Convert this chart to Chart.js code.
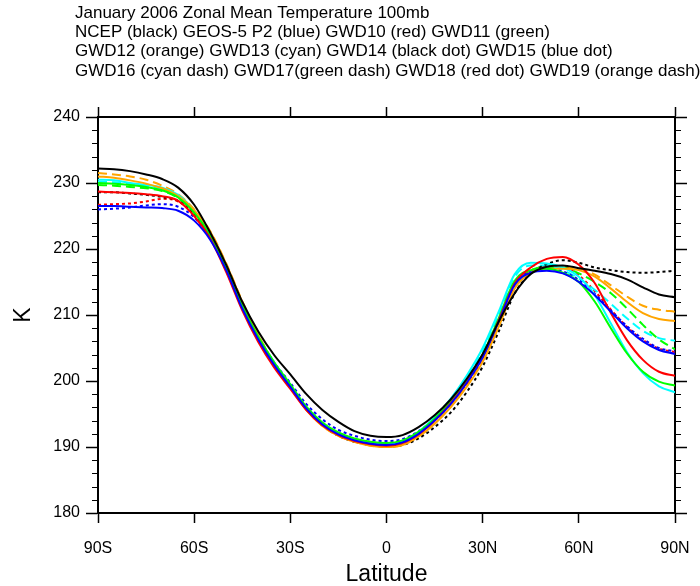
<!DOCTYPE html>
<html>
<head>
<title>January 2006 Zonal Mean Temperature 100mb</title>
<script src="https://cdn.jsdelivr.net/npm/chart.js@4.4.1/dist/chart.umd.min.js"></script>
<style>
  body { margin: 0; background: #fff; }
</style>
</head>
<body>
<canvas id="myChart" width="700" height="586"></canvas>
<script>
// latitude every 5 degrees, 90S..90N
var lats = [-90, -85, -80, -75, -70, -65, -60, -55, -50, -45, -40, -35, -30, -25, -20, -15, -10, -5, 0,
            5, 10, 15, 20, 25, 30, 35, 40, 45, 50, 55, 60, 65, 70, 75, 80, 85, 90];

var titleLines = [
  'January 2006 Zonal Mean Temperature 100mb',
  'NCEP (black) GEOS-5 P2 (blue) GWD10 (red) GWD11 (green)',
  'GWD12 (orange) GWD13 (cyan) GWD14 (black dot) GWD15 (blue dot)',
  'GWD16 (cyan dash) GWD17(green dash) GWD18 (red dot) GWD19 (orange dash)'
];

var ncep = [232.2, 232.1, 231.8, 231.3, 230.6, 229.3, 226.7, 222.5, 217.6, 212.0, 207.5, 203.9, 201.0, 198.0, 195.6, 193.8, 192.4, 191.7, 191.5,
            191.8, 193.0, 194.8, 197.2, 200.3, 204.1, 209.0, 213.3, 216.2, 217.3, 217.5, 217.1, 216.7, 216.2, 215.4, 214.2, 213.1, 212.7];
var geos5 = [226.5, 226.5, 226.4, 226.3, 226.2, 225.8, 224.3, 221.4, 216.8, 211.0, 206.3, 202.4, 199.1, 195.8, 193.4, 191.9, 191.0, 190.5, 190.3,
             190.7, 192.0, 194.0, 196.5, 199.7, 203.6, 209.0, 214.6, 216.4, 216.7, 216.3, 215.0, 213.0, 210.5, 208.0, 206.0, 204.7, 204.1];
var gwd10 = [228.7, 228.6, 228.5, 228.3, 228.0, 227.3, 225.0, 221.6, 216.5, 210.7, 205.9, 202.0, 198.8, 195.6, 193.3, 191.8, 190.9, 190.4, 190.2,
             190.6, 191.9, 194.0, 196.6, 199.8, 203.7, 209.2, 214.8, 217.2, 218.5, 218.8, 217.6, 214.8, 210.3, 206.2, 203.2, 201.4, 200.8];
var gwd11 = [230.0, 229.9, 229.7, 229.4, 228.9, 227.8, 225.5, 222.1, 217.1, 211.4, 206.7, 202.8, 199.5, 196.1, 193.7, 192.2, 191.3, 190.8, 190.6,
             191.0, 192.3, 194.3, 196.9, 200.1, 204.0, 209.5, 215.2, 216.8, 217.0, 216.4, 215.0, 212.0, 208.0, 204.2, 201.4, 199.9, 199.3];
var gwd12 = [231.0, 230.8, 230.4, 229.9, 229.2, 228.0, 225.9, 222.6, 217.7, 212.0, 206.9, 202.6, 199.1, 195.6, 193.2, 191.7, 190.8, 190.2, 190.0,
             190.3, 191.6, 193.5, 196.0, 199.1, 202.9, 208.2, 214.0, 216.4, 217.0, 217.0, 216.8, 215.8, 214.0, 212.0, 210.3, 209.4, 209.1];
var gwd13 = [230.5, 230.4, 230.0, 229.7, 229.3, 228.2, 225.8, 222.2, 217.2, 211.5, 206.8, 202.8, 199.4, 196.0, 193.6, 192.0, 191.1, 190.6, 190.4,
             190.9, 192.3, 194.5, 197.3, 200.8, 205.0, 210.5, 216.2, 217.9, 217.8, 217.2, 215.8, 213.0, 208.7, 204.4, 201.2, 199.2, 198.3];
var gwd14 = [228.6, 228.6, 228.4, 228.2, 227.9, 227.3, 225.3, 221.9, 217.0, 211.3, 206.5, 202.5, 199.2, 195.8, 193.3, 191.7, 190.8, 190.3, 190.1,
             190.3, 191.3, 193.0, 195.2, 198.3, 202.2, 207.5, 213.3, 216.3, 217.7, 218.3, 217.9, 217.2, 216.8, 216.5, 216.4, 216.5, 216.7];
var gwd15 = [226.0, 226.1, 226.3, 226.6, 226.8, 226.4, 224.8, 221.6, 216.8, 211.2, 206.6, 202.8, 199.7, 196.5, 194.2, 192.6, 191.7, 191.1, 190.9,
             191.2, 192.4, 194.3, 196.8, 199.9, 203.7, 209.1, 214.9, 216.6, 217.0, 216.6, 215.3, 213.2, 210.7, 208.3, 206.4, 205.0, 204.5];
var gwd16 = [230.2, 230.1, 229.8, 229.5, 229.0, 228.0, 225.6, 222.1, 217.1, 211.4, 206.7, 202.7, 199.4, 196.0, 193.6, 192.0, 191.1, 190.6, 190.4,
             190.8, 192.2, 194.3, 197.0, 200.4, 204.5, 210.0, 215.8, 217.5, 217.5, 216.8, 215.5, 213.8, 211.7, 209.5, 207.6, 206.5, 206.1];
var gwd17 = [229.7, 229.6, 229.4, 229.2, 228.8, 227.7, 225.4, 222.0, 217.0, 211.3, 206.6, 202.7, 199.4, 196.0, 193.6, 192.1, 191.2, 190.7, 190.5,
             190.9, 192.2, 194.2, 196.8, 200.0, 203.9, 209.3, 215.0, 216.8, 217.3, 217.2, 216.3, 215.0, 213.3, 211.0, 208.5, 206.3, 204.8];
var gwd18 = [226.7, 226.8, 226.9, 227.2, 227.6, 227.2, 225.2, 221.7, 216.7, 211.0, 206.3, 202.4, 199.1, 195.8, 193.4, 191.8, 190.9, 190.4, 190.3,
             190.7, 192.0, 194.0, 196.5, 199.6, 203.5, 208.8, 214.6, 216.6, 217.4, 217.3, 216.0, 213.6, 210.8, 208.2, 206.2, 204.9, 204.4];
var gwd19 = [231.5, 231.3, 231.0, 230.5, 229.6, 228.3, 226.0, 222.7, 217.8, 212.1, 207.0, 202.7, 199.2, 195.7, 193.2, 191.7, 190.8, 190.2, 190.0,
             190.3, 191.6, 193.6, 196.1, 199.3, 203.1, 208.5, 214.2, 216.6, 217.2, 217.3, 217.1, 216.1, 214.5, 212.8, 211.4, 210.8, 210.5];

var seriesNames = ['NCEP', 'GEOS-5 P2', 'GWD10', 'GWD11', 'GWD12', 'GWD13', 'GWD14',
                   'GWD15', 'GWD16', 'GWD17', 'GWD18', 'GWD19'];
var seriesData = [ncep, geos5, gwd10, gwd11, gwd12, gwd13, gwd14, gwd15, gwd16, gwd17, gwd18, gwd19];
var seriesColors = ['#000000', '#0000ff', '#ff0000', '#00ff00', '#ffa500', '#00ffff', '#000000',
                    '#0000ff', '#00ffff', '#00ff00', '#ff0000', '#ffa500'];
var seriesDash = [[], [], [], [], [], [], [3, 3], [3, 3], [9, 5], [9, 5], [3, 3], [9, 5]];

var FONT = "'Liberation Sans', Arial, Helvetica, sans-serif";

var datasets = seriesData.map(function (vals, i) {
  return {
    label: seriesNames[i],
    data: lats.map(function (lat, j) { return { x: lat, y: vals[j] }; }),
    borderColor: seriesColors[i],
    borderDash: seriesDash[i],
    borderWidth: 2,
    pointRadius: 0,
    fill: false,
    cubicInterpolationMode: 'monotone'
  };
});

function latLabel(v) {
  if (v < 0) return (-v) + 'S';
  if (v > 0) return v + 'N';
  return '0';
}

// title lines and the 2 K minor ticks that NCL draws
var extras = {
  id: 'extras',
  afterDraw: function (chart) {
    var ctx = chart.ctx;
    var y = chart.scales.y;
    var area = chart.chartArea;
    ctx.save();
    ctx.strokeStyle = '#000';
    ctx.lineWidth = 1.2;
    for (var v = 180; v <= 240; v += 2) {
      if (v % 10 === 0) continue;
      var py = Math.round(y.getPixelForValue(v)) + 0.5;
      ctx.beginPath();
      ctx.moveTo(area.left - 6, py);
      ctx.lineTo(area.left, py);
      ctx.moveTo(area.right, py);
      ctx.lineTo(area.right + 6, py);
      ctx.stroke();
    }
    ctx.fillStyle = '#000';
    ctx.font = '17px ' + FONT;
    ctx.textBaseline = 'middle';
    ctx.textAlign = 'left';
    var ty = [13, 32, 51, 71];
    titleLines.forEach(function (t, i) { ctx.fillText(t, 75, ty[i]); });
    ctx.restore();
  }
};

var tickStyle = { color: '#000', font: { family: FONT, size: 16 } };

new Chart(document.getElementById('myChart'), {
  type: 'line',
  data: { datasets: datasets },
  plugins: [extras],
  options: {
    responsive: false,
    animation: false,
    layout: { padding: 0 },
    plugins: { legend: { display: false }, tooltip: { enabled: false } },
    scales: {
      x: {
        type: 'linear', position: 'bottom', min: -90, max: 90,
        ticks: Object.assign({ stepSize: 30, padding: 16, callback: latLabel }, tickStyle),
        grid: { drawOnChartArea: false, tickLength: 10, tickColor: '#000', tickWidth: 1.5 },
        border: { display: true, color: '#000', width: 2 },
        title: { display: true, text: 'Latitude', color: '#000',
                 font: { family: FONT, size: 23, lineHeight: 1 }, padding: { top: 0, bottom: 0 } },
        afterFit: function (s) { s.height = 73; s.paddingLeft = 0; s.paddingRight = 0; }
      },
      x2: {
        type: 'linear', position: 'top', min: -90, max: 90,
        ticks: { stepSize: 30, display: false },
        grid: { drawOnChartArea: false, tickLength: 10, tickColor: '#000', tickWidth: 1.5 },
        border: { display: true, color: '#000', width: 2 },
        afterFit: function (s) { s.height = 117; s.paddingLeft = 0; s.paddingRight = 0; }
      },
      y: {
        type: 'linear', position: 'left', min: 180, max: 240,
        ticks: Object.assign({ stepSize: 10, padding: 6 }, tickStyle),
        grid: { drawOnChartArea: false, tickLength: 12, tickColor: '#000', tickWidth: 1.5 },
        border: { display: true, color: '#000', width: 2 },
        title: { display: true, text: 'K', color: '#000',
                 font: { family: FONT, size: 23, lineHeight: 1 }, padding: { top: 12, bottom: 0 } },
        afterFit: function (s) { s.width = 98; }
      },
      y2: {
        type: 'linear', position: 'right', min: 180, max: 240,
        ticks: { stepSize: 10, display: false },
        grid: { drawOnChartArea: false, tickLength: 12, tickColor: '#000', tickWidth: 1.5 },
        border: { display: true, color: '#000', width: 2 },
        afterFit: function (s) { s.width = 25; }
      }
    }
  }
});
</script>
</body>
</html>
